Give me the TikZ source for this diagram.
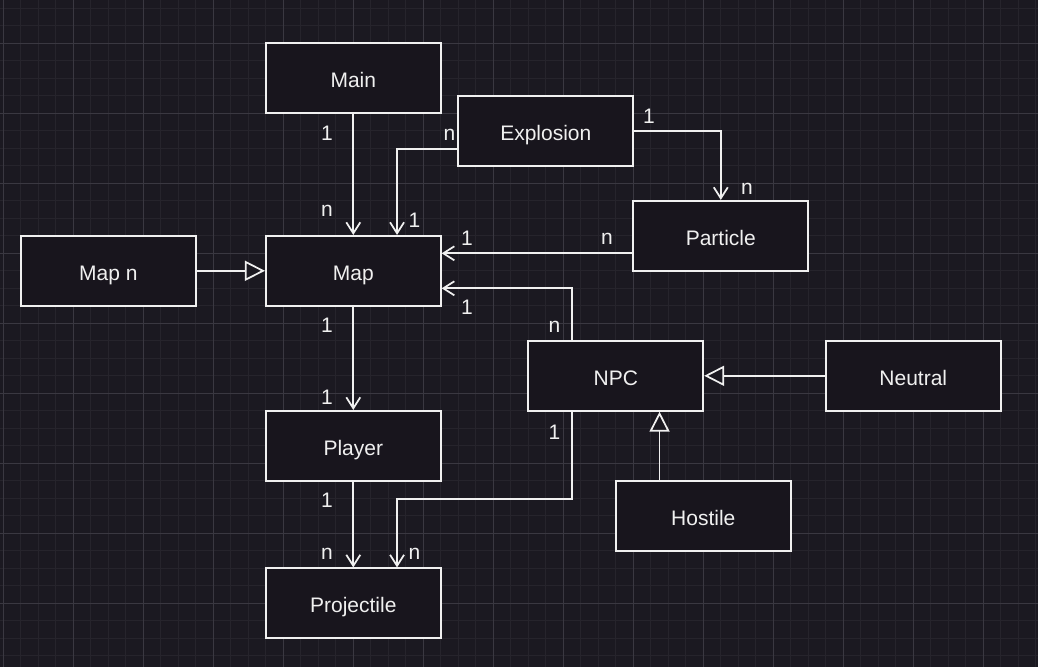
\documentclass[tikz,border=0pt]{standalone}
\usepackage{fontspec}
\setmainfont{Liberation Sans}
\usetikzlibrary{arrows.meta,calc}
\definecolor{bgc}{RGB}{27,25,33}
\definecolor{minorc}{RGB}{38,36,44}
\definecolor{majorc}{RGB}{58,56,65}
\definecolor{boxc}{RGB}{24,21,29}
\definecolor{linec}{RGB}{240,240,240}
\newcommand*{\xLo}{-0.1886}
\newcommand*{\xHi}{59.1257}
\newcommand*{\yLo}{-0.4743}
\newcommand*{\yHi}{37.64}

\begin{document}
\begin{tikzpicture}[x=17.5pt, y=-17.5pt, line width=1.75pt,
    every node/.style={text=linec, font=\fontsize{21}{25}\selectfont},
    box/.style={draw=linec, fill=boxc, minimum width=175pt, minimum height=70pt, inner sep=0pt,
        text height=19pt, text depth=0pt},
    conn/.style={draw=linec, -{Straight Barb[length=11pt,width=14pt]}},
    inherit/.style={draw=linec, -{Triangle[open,length=20pt,width=20pt,fill=bgc]}}]

    % background and grid
    \fill [bgc] (\xLo,\yLo) rectangle (\xHi,\yHi);
    \useasboundingbox (\xLo,\yLo) rectangle (\xHi,\yHi);
    \foreach \i in {0,...,59} {
        \draw [line width=1pt,minorc] (\i,\yLo) -- (\i,\yHi);
    }
    \foreach \i in {0,...,37} {
        \draw [line width=1pt,minorc] (\xLo,\i) -- (\xHi,\i);
    }
    \foreach \i in {0,4,...,56} {
        \draw [line width=1pt,majorc] (\i,\yLo) -- (\i,\yHi);
    }
    \foreach \i in {2,6,...,34} {
        \draw [line width=1pt,majorc] (\xLo,\i) -- (\xHi,\i);
    }

    % classes
    \node [box] (main) at (20,4) {Main};
    \node [box] (explosion) at (31,7) {Explosion};
    \node [box] (particle) at (41,13) {Particle};
    \node [box] (mapN) at (6,15) {Map n};
    \node [box] (map) at (20,15) {Map};
    \node [box] (npc) at (35,21) {NPC};
    \node [box] (neutral) at (52,21) {Neutral};
    \node [box] (player) at (20,25) {Player};
    \node [box] (hostile) at (40,29) {Hostile};
    \node [box] (projectile) at (20,34) {Projectile};

    \coordinate (exOut) at ($(explosion.west)!0.5!(explosion.south west)$);
    \coordinate (mapIn) at ($(map.north)+(2.5,0)$);
    \coordinate (paOut) at ($(particle.west)+(0,1)$);
    \coordinate (npcTop) at ($(npc.north)+(-2.5,0)$);
    \coordinate (npcBot) at ($(npc.south)+(-2.5,0)$);
    \coordinate (prIn) at ($(projectile.north)+(2.5,0)$);
    \coordinate (hoOut) at ($(hostile.north)+(-2.5,0)$);

    % associations
    \draw [conn] (main) -- (map);
    \draw [conn] (exOut) -| (mapIn);
    \draw [conn] (explosion.east) -| (particle.north);
    \draw [conn] (paOut) -- (paOut -| map.east);
    \draw [conn] (npcTop) |- ($(map.east)+(0,1)$);
    \draw [conn] (map) -- (player);
    \draw [conn] (player) -- (projectile);
    \draw [conn] (npcBot) -- ++(0,5) -| (prIn);

    % inheritance
    \draw [inherit] (mapN) -- (map);
    \draw [inherit] (neutral) -- (npc);
    \draw [inherit] (hoOut) -- (hoOut |- npc.south);

    % multiplicities
    \foreach \x/\y/\t [count=\i] in {18.5/7.14/1, 18.5/11.6/n, 25.5/7.24/n, 23.5/12.1/1,
        26.5/13.14/1, 34.5/13.2/n, 36.9/6.15/1, 42.5/10.3/n, 26.5/17.1/1, 31.5/18.2/n,
        31.5/24.2/1, 18.5/18.1/1, 18.5/22.2/1, 18.5/28.1/1, 18.5/31.2/n, 23.5/31.2/n} {
        \node (mult\i) at (\x,\y) {\t};
    }

\end{tikzpicture}
\end{document}
